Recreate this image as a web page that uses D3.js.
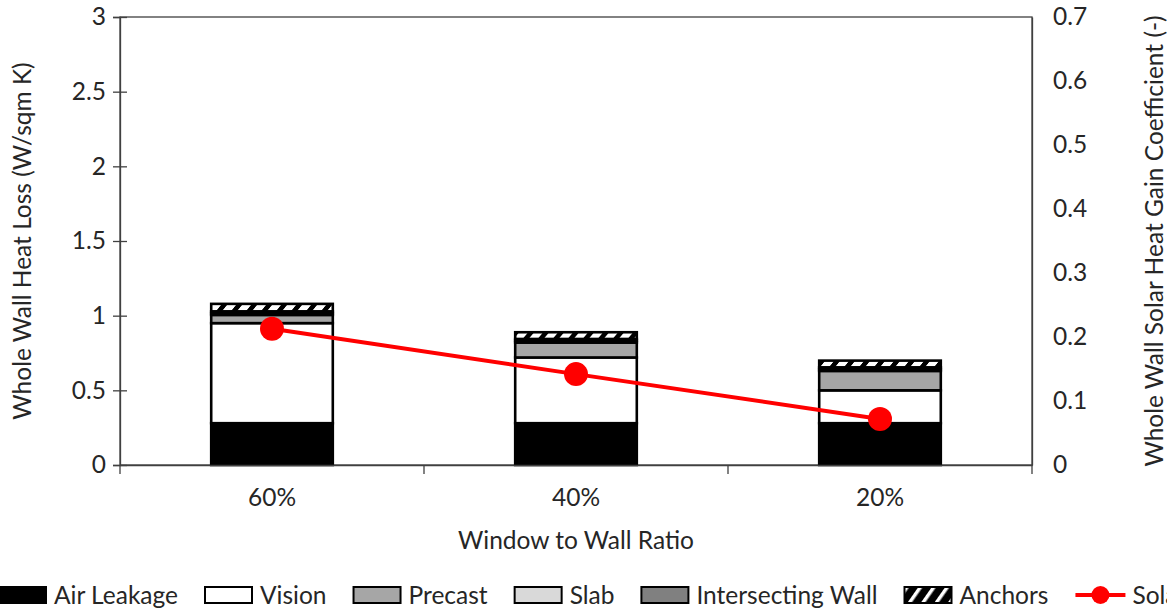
<!DOCTYPE html>
<html>
<head>
<meta charset="utf-8">
<script src="https://cdn.jsdelivr.net/npm/d3@7"></script>
<style>
  html, body { margin: 0; padding: 0; background: #fff; overflow: hidden; }
  svg { display: block; font-family: Lato, "Open Sans", sans-serif; }
</style>
</head>
<body>
<svg id="chart" width="1167" height="609"></svg>
<script>
// Window-to-wall ratio categories
const categories = ["60%", "40%", "20%"];

// Whole wall heat loss components (W/sqm K), stacked bottom to top
const airLeakage       = [0.28, 0.28, 0.28];
const vision           = [0.67, 0.44, 0.22];
const precast          = [0.055, 0.10, 0.13];
const slab             = [0.012, 0.012, 0.012];
const intersectingWall = [0.012, 0.012, 0.012];
const anchors          = [0.05, 0.045, 0.045];

// Whole wall solar heat gain coefficient (-), right axis
const solarHeatGain = [0.213, 0.142, 0.072];

// Axis ticks
const leftTicks  = [0, 0.5, 1, 1.5, 2, 2.5, 3];
const rightTicks = [0, 0.1, 0.2, 0.3, 0.4, 0.5, 0.6, 0.7];

const seriesDefs = [
  { key: "airLeakage",       name: "Air Leakage",       values: airLeakage,       fill: "#000000" },
  { key: "vision",           name: "Vision",            values: vision,           fill: "#ffffff" },
  { key: "precast",          name: "Precast",           values: precast,          fill: "#a6a6a6" },
  { key: "slab",             name: "Slab",              values: slab,             fill: "#d9d9d9" },
  { key: "intersectingWall", name: "Intersecting Wall", values: intersectingWall, fill: "#808080" },
  { key: "anchors",          name: "Anchors",           values: anchors,          fill: "url(#hatch)" }
];

const svg = d3.select("#chart");
const textColor = "#262626";
const axisColor = "#404040";
const fontSize = "24.5px";

const plot = { left: 120, right: 1032, top: 17, bottom: 465 };

// Diagonal hatch for the anchors series
const defs = svg.append("defs");
const pat = defs.append("pattern")
  .attr("id", "hatch")
  .attr("patternUnits", "userSpaceOnUse")
  .attr("width", 15).attr("height", 15)
  .attr("patternTransform", "skewX(-40)");
pat.append("rect").attr("width", 15).attr("height", 15).attr("fill", "#000");
pat.append("rect").attr("x", 3).attr("y", 0).attr("width", 9).attr("height", 15).attr("fill", "#fff");

const legendPat = defs.append("pattern")
  .attr("id", "hatchLegend")
  .attr("patternUnits", "userSpaceOnUse")
  .attr("width", 11).attr("height", 11)
  .attr("patternTransform", "rotate(35)");
legendPat.append("rect").attr("width", 11).attr("height", 11).attr("fill", "#000");
legendPat.append("rect").attr("x", 0).attr("y", 0).attr("width", 3.5).attr("height", 11).attr("fill", "#fff");

// Scales
const x = d3.scaleBand()
  .domain(categories)
  .range([plot.left, plot.right])
  .paddingInner(0.6)
  .paddingOuter(0.3);

const yLeft = d3.scaleLinear().domain([0, 3]).range([plot.bottom, plot.top]);
const yRight = d3.scaleLinear().domain([0, 0.7]).range([plot.bottom, plot.top]);

// Stack data
const rows = categories.map((c, i) => {
  const r = { category: c };
  seriesDefs.forEach(s => { r[s.key] = s.values[i]; });
  return r;
});
const stacked = d3.stack().keys(seriesDefs.map(s => s.key))(rows);

// Plot area frame
svg.append("rect")
  .attr("x", plot.left).attr("y", plot.top)
  .attr("width", plot.right - plot.left).attr("height", plot.bottom - plot.top)
  .attr("fill", "none").attr("stroke", axisColor).attr("stroke-width", 1.3);

// Stacked bars
const barG = svg.append("g");
stacked.forEach((layer, li) => {
  barG.selectAll(null)
    .data(layer)
    .join("rect")
    .attr("x", d => x(d.data.category))
    .attr("width", x.bandwidth())
    .attr("y", d => yLeft(d[1]))
    .attr("height", d => yLeft(d[0]) - yLeft(d[1]))
    .attr("fill", seriesDefs[li].fill)
    .attr("stroke", "#000")
    .attr("stroke-width", 2.6);
});

// Left axis
const leftAxis = d3.axisLeft(yLeft).tickValues(leftTicks).tickFormat(d3.format("")).tickSize(7).tickPadding(7);
const gl = svg.append("g").attr("transform", `translate(${plot.left},0)`).call(leftAxis);
gl.select(".domain").attr("stroke", axisColor).attr("stroke-width", 1.3);
gl.selectAll(".tick line").attr("stroke", axisColor).attr("stroke-width", 1.3).attr("x2", -7).attr("x1", 7);
gl.selectAll(".tick text").attr("fill", textColor).style("font-size", fontSize).style("font-family", "Lato, sans-serif");

// Right axis
const rightAxis = d3.axisRight(yRight).tickValues(rightTicks).tickFormat(d3.format("")).tickSize(0).tickPadding(21);
const gr = svg.append("g").attr("transform", `translate(${plot.right},0)`).call(rightAxis);
gr.select(".domain").attr("stroke", axisColor).attr("stroke-width", 1.3);
gr.selectAll(".tick text").attr("fill", textColor).style("font-size", fontSize).style("font-family", "Lato, sans-serif");

// Bottom axis with ticks between categories
const bottomAxis = d3.axisBottom(x).tickSize(0).tickPadding(24);
const gb = svg.append("g").attr("transform", `translate(0,${plot.bottom})`).call(bottomAxis);
gb.select(".domain").attr("stroke", axisColor).attr("stroke-width", 1.3);
gb.selectAll(".tick text").attr("fill", textColor).style("font-size", fontSize).style("font-family", "Lato, sans-serif");
const step = x.step();
const dividers = d3.range(categories.length + 1).map(i => plot.left + i * step);
gb.selectAll("line.divider")
  .data(dividers)
  .join("line")
  .attr("class", "divider")
  .attr("x1", d => d).attr("x2", d => d)
  .attr("y1", 0).attr("y2", 9)
  .attr("stroke", axisColor).attr("stroke-width", 1.3);

// Solar heat gain line and markers
const cx = c => x(c) + x.bandwidth() / 2;
const lineGen = d3.line()
  .x((d, i) => cx(categories[i]))
  .y(d => yRight(d));
svg.append("path")
  .datum(solarHeatGain)
  .attr("d", lineGen)
  .attr("fill", "none")
  .attr("stroke", "#ff0000")
  .attr("stroke-width", 4);
svg.selectAll("circle.sol")
  .data(solarHeatGain)
  .join("circle")
  .attr("class", "sol")
  .attr("cx", (d, i) => cx(categories[i]))
  .attr("cy", d => yRight(d))
  .attr("r", 12)
  .attr("fill", "#ff0000");

// Axis titles
svg.append("text")
  .attr("transform", `translate(31,${(plot.top + plot.bottom) / 2}) rotate(-90)`)
  .attr("text-anchor", "middle")
  .attr("fill", textColor)
  .style("font-size", fontSize)
  .text("Whole Wall Heat Loss (W/sqm K)");

svg.append("text")
  .attr("transform", `translate(1163,${(plot.top + plot.bottom) / 2}) rotate(-90)`)
  .attr("text-anchor", "middle")
  .attr("fill", textColor)
  .style("font-size", fontSize)
  .text("Whole Wall Solar Heat Gain Coefficient (-)");

svg.append("text")
  .attr("x", (plot.left + plot.right) / 2)
  .attr("y", 549)
  .attr("text-anchor", "middle")
  .attr("fill", textColor)
  .style("font-size", fontSize)
  .text("Window to Wall Ratio");

// Legend
const legend = svg.append("g");
const legendY = 595;
let lx = -1;
seriesDefs.forEach(s => {
  legend.append("rect")
    .attr("x", lx).attr("y", legendY - 8)
    .attr("width", 47).attr("height", 16)
    .attr("fill", s.key === "anchors" ? "url(#hatchLegend)" : s.fill)
    .attr("stroke", "#000").attr("stroke-width", 2);
  const t = legend.append("text")
    .attr("x", lx + 55).attr("y", legendY + 9)
    .attr("fill", textColor)
    .style("font-size", fontSize)
    .text(s.name);
  lx += 55 + t.node().getComputedTextLength() + 27;
});
legend.append("line")
  .attr("x1", lx).attr("x2", lx + 50)
  .attr("y1", legendY).attr("y2", legendY)
  .attr("stroke", "#ff0000").attr("stroke-width", 4);
legend.append("circle")
  .attr("cx", lx + 25).attr("cy", legendY).attr("r", 9).attr("fill", "#ff0000");
legend.append("text")
  .attr("x", lx + 57).attr("y", legendY + 9)
  .attr("fill", textColor)
  .style("font-size", fontSize)
  .text("Solar Heat Gain Coefficient");
</script>
</body>
</html>
